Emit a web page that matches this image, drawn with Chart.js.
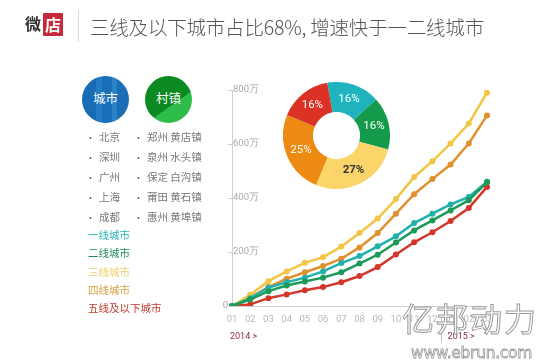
<!DOCTYPE html>
<html>
<head>
<meta charset="utf-8">
<script src="https://cdn.jsdelivr.net/npm/chart.js@4.4.1/dist/chart.umd.min.js"></script>
<style>
  html, body { margin: 0; padding: 0; }
  body {
    width: 550px; height: 363px; overflow: hidden; position: relative;
    background: #fff; font-family: "Noto Sans CJK SC", "Noto Sans", sans-serif;
  }
  .abs { position: absolute; }
  #line { position: absolute; left: 0; top: 0; }
  #pie { position: absolute; left: 283px; top: 82px; }
  .logo1 { left: 25px; top: 11px; font-size: 16px; font-weight: bold; color: #333; line-height: 24px; }
  .logo2 { left: 43px; top: 13px; width: 20px; height: 23px; background: #c4283a; color: #fff;
           font-size: 16px; font-weight: bold; line-height: 23px; text-align: center; border-radius: 1px; }
  .sep { left: 78px; top: 10px; width: 1px; height: 32px; background: #d8d8d8; }
  .title { left: 90px; top: 13px; font-size: 19.5px; font-weight: 300; color: #555; line-height: 28px; white-space: nowrap; letter-spacing: -0.2px; }
  .circle { width: 47px; height: 47px; border-radius: 50%; color: #fff; font-size: 12.5px;
            text-align: center; line-height: 44px; }
  .city { background: linear-gradient(90deg, #176cb5 0 30%, #237bc2 30% 42%, #1a70b8 42% 64%, #2a82c6 64% 74%, #1a6db5 74%); }
  .town { background: linear-gradient(145deg, #0b8a22 0 60%, #2fbd4a 60%); }
  .list { font-size: 10.5px; color: #777; line-height: 19px; white-space: nowrap; }
  .list span { font-size: 9px; margin-right: 4px; color: #666; }
  .legend { left: 88px; top: 226px; font-size: 10.5px; line-height: 18.3px; white-space: nowrap; }
  .wm1 { left: 402px; top: 297px; font-size: 32px; letter-spacing: 2px; color: #fff;
         -webkit-text-stroke: 1px #9a9a9a; line-height: 40px; white-space: nowrap; z-index: 5; }
  .wm2 { left: 411px; top: 344px; font-size: 15.5px; font-family: "DejaVu Sans", sans-serif; color: #fff;
         -webkit-text-stroke: 0.8px #9a9a9a; line-height: 18px; white-space: nowrap; z-index: 5; letter-spacing: -0.3px; }
</style>
</head>
<body>
<canvas id="line" width="550" height="363"></canvas>
<canvas id="pie" width="107" height="107"></canvas>

<div class="abs logo1">微</div>
<div class="abs logo2">店</div>
<div class="abs sep"></div>
<div class="abs title">三线及以下城市占比68%, 增速快于一二线城市</div>

<div class="abs circle city" style="left:82px; top:76px;">城市</div>
<div class="abs circle town" style="left:145px; top:76px;">村镇</div>

<div class="abs list" id="col1" style="left:86px; top:127px;"></div>
<div class="abs list" id="col2" style="left:134px; top:127px;"></div>
<div class="abs legend" id="legend"></div>

<div class="abs wm1">亿邦动力</div>
<div class="abs wm2">www.ebrun.com</div>

<script>
// months, Jan 2014 .. Mar 2015
const months = ["01", "02", "03", "04", "05", "06", "07", "08", "09", "10", "11", "12", "01", "02", "03"];
const years = ["2014 >", "2015 >"];

// values in 万
const tier1 = [0, 29, 68, 88, 105, 128, 159, 185, 221, 258, 307, 342, 376, 404, 460];
const tier2 = [0, 24, 55, 76, 91, 105, 125, 157, 190, 235, 280, 317, 354, 392, 458];
const tier3 = [0, 42, 92, 128, 160, 181, 220, 270, 324, 396, 478, 536, 602, 676, 790];
const tier4 = [0, 32, 70, 101, 125, 148, 175, 217, 270, 342, 414, 470, 524, 602, 706];
const tier5 = [0, 6, 29, 43, 58, 70, 88, 111, 144, 191, 236, 273, 315, 363, 441];

const seriesNames = ["一线城市", "二线城市", "三线城市", "四线城市", "五线及以下城市"];
const lineColors = ["#22b0aa", "#1c9a58", "#f2c545", "#e0902f", "#d2372b"];
const legendColors = ["#2ab5b5", "#1f8a5c", "#f2cf68", "#d9a040", "#c23a30"];

// donut
const shareLabels = ["一线城市", "二线城市", "三线城市", "四线城市", "五线及以下城市"];
const shareValues = [16, 16, 27, 25, 16];
const shareColors = ["#1fb3bd", "#139a4a", "#fbd46a", "#ec8a12", "#dc3226"];

const cities = ["北京", "深圳", "广州", "上海", "成都"];
const towns = ["郑州 黄店镇", "泉州 水头镇", "保定 白沟镇", "莆田 黄石镇", "惠州 黄埠镇"];

document.getElementById("col1").innerHTML = cities.map(c => "<div><span>•</span>" + c + "</div>").join("");
document.getElementById("col2").innerHTML = towns.map(c => "<div><span>•</span>" + c + "</div>").join("");
document.getElementById("legend").innerHTML = seriesNames
  .map((n, i) => '<div style="color:' + legendColors[i] + '">' + n + "</div>").join("");

const allSeries = [tier1, tier2, tier3, tier4, tier5];
const drawOrder = [2, 1, 3, 4, 5];

const extras = {
  id: "extras",
  afterDraw(chart) {
    const { ctx, scales: { x, y }, chartArea } = chart;
    ctx.save();
    ctx.fillStyle = "#aaa";
    ctx.font = "9.5px Roboto";
    ctx.textAlign = "right";
    ctx.textBaseline = "middle";
    ctx.fillText("0", chartArea.left - 4, y.getPixelForValue(0));

    ctx.fillStyle = "#8c2a3c";
    ctx.font = "9px Roboto";
    ctx.textAlign = "left";
    ctx.fillText(years[0], x.getPixelForValue(0) - 2, 337);
    ctx.fillText(years[1], x.getPixelForValue(12) - 3, 337);

    const sx = Math.round((x.getPixelForValue(11) + x.getPixelForValue(12)) / 2) + 0.5;
    ctx.strokeStyle = "#d9b3bb";
    ctx.lineWidth = 1;
    ctx.beginPath();
    ctx.moveTo(sx, 315);
    ctx.lineTo(sx, 342);
    ctx.stroke();
    ctx.restore();
  }
};

new Chart(document.getElementById("line"), {
  type: "line",
  data: {
    labels: months,
    datasets: allSeries.map((d, i) => ({
      label: seriesNames[i],
      data: d,
      borderColor: lineColors[i],
      backgroundColor: lineColors[i],
      borderWidth: 2.5,
      pointRadius: 3,
      pointBorderWidth: 0,
      tension: 0,
      order: drawOrder[i]
    }))
  },
  options: {
    responsive: false,
    animation: false,
    layout: { padding: { left: 0, top: 90, right: 63, bottom: 27 } },
    plugins: { legend: { display: false }, tooltip: { enabled: false } },
    scales: {
      x: {
        grid: { display: false, drawTicks: false },
        border: { color: "#cfcfcf" },
        ticks: { color: "#b8b8b8", font: { size: 9.5, family: "Roboto" }, padding: 8, maxRotation: 0, autoSkip: false },
        afterFit(s) { s.height = 30; s.paddingLeft = 0; s.paddingRight = 0; }
      },
      y: {
        min: 0,
        max: 800,
        ticks: {
          stepSize: 200, mirror: true, padding: 1, color: "#aaa",
          font: { size: 9.5, family: "Roboto" },
          callback: v => (v === 0 ? "" : v + "万")
        },
        grid: { drawOnChartArea: false, tickLength: 4, color: "#cfcfcf" },
        border: { color: "#cfcfcf" },
        afterFit(s) { s.width = 232; s.paddingTop = 0; s.paddingBottom = 0; }
      }
    }
  },
  plugins: [extras]
});

const pieText = {
  id: "pieText",
  afterDatasetsDraw(chart) {
    const { ctx } = chart;
    ctx.save();
    ctx.textAlign = "center";
    ctx.textBaseline = "middle";
    chart.getDatasetMeta(0).data.forEach((arc, i) => {
      const p = arc.getProps(["x", "y", "startAngle", "endAngle", "innerRadius", "outerRadius"], true);
      const a = (p.startAngle + p.endAngle) / 2;
      const r = (p.innerRadius + p.outerRadius) / 2;
      ctx.fillStyle = i === 2 ? "#333" : "#fff";
      ctx.font = (i === 2 ? "bold " : "") + "11.5px Roboto";
      ctx.fillText(shareValues[i] + "%", p.x + r * Math.cos(a), p.y + r * Math.sin(a));
    });
    ctx.restore();
  }
};

new Chart(document.getElementById("pie"), {
  type: "doughnut",
  data: {
    labels: shareLabels,
    datasets: [{ data: shareValues, backgroundColor: shareColors, borderWidth: 0 }]
  },
  options: {
    responsive: false,
    animation: false,
    cutout: "44%",
    rotation: -10,
    plugins: { legend: { display: false }, tooltip: { enabled: false } }
  },
  plugins: [pieText]
});
</script>
</body>
</html>
